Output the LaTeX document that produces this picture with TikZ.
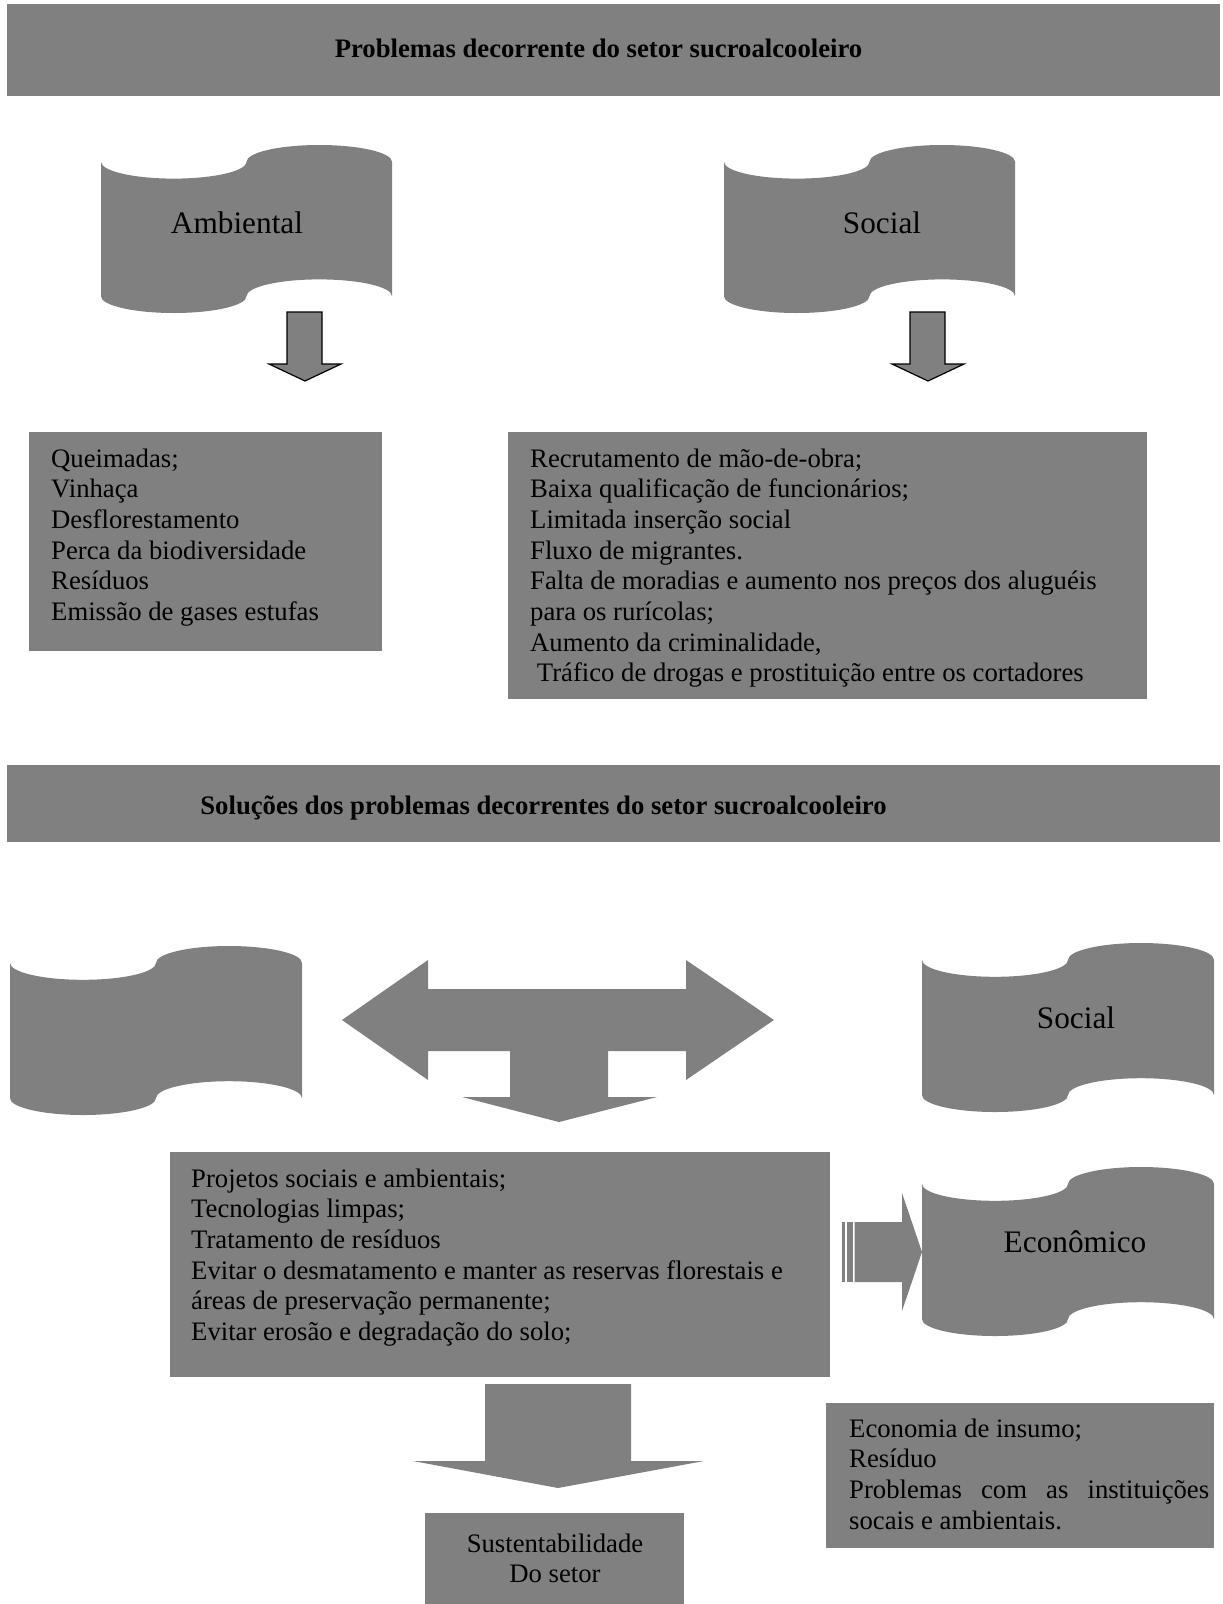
\documentclass[tikz,border=0pt]{standalone}
\usepackage{fontspec}
\setmainfont{Liberation Serif}
\definecolor{boxgray}{RGB}{128,128,128}
\tikzset{
  panel/.style={fill=boxgray, draw=none, inner sep=0pt, anchor=north west},
  bodytext/.style={font=\fontsize{26.7}{30.7}\selectfont, inner sep=0pt, anchor=base west},
  titletext/.style={font=\fontsize{26.7}{30.7}\selectfont\bfseries, inner sep=0pt, anchor=base},
  wavetext/.style={font=\fontsize{31.3}{36}\selectfont, inner sep=0pt, anchor=base},
  outlinedarrow/.style={fill=boxgray, draw=black, line width=1.2pt, line join=miter},
  pics/tape/.style 2 args={code={
    \fill[boxgray] (0,#2/10)
      arc[start angle=180, end angle=0,   x radius=#1/4, y radius=#2/10]
      arc[start angle=180, end angle=360, x radius=#1/4, y radius=#2/10]
      -- (#1,9*#2/10)
      arc[start angle=0, end angle=-180,  x radius=#1/4, y radius=#2/10]
      arc[start angle=0, end angle=180,   x radius=#1/4, y radius=#2/10]
      -- cycle;
  }},
}
\begin{document}
\begin{tikzpicture}[x=1pt, y=-1pt]
\useasboundingbox (0,0) rectangle (1223,1604);

% ---------- Problems ----------
\node[panel, minimum width=1213, minimum height=92] (band1) at (7,4) {};
\node[titletext] (title1) at (598.5,57) {Problemas decorrente do setor sucroalcooleiro};

\pic at (101,145) {tape={291}{168}};
\node[wavetext] (ambiental) at (237,233) {Ambiental};
\pic at (724,145) {tape={291}{168}};
\node[wavetext] (social1) at (882,233) {Social};

% small down arrows
\draw[outlinedarrow] (287,312) -- (322,312) -- (322,364) -- (341,364) -- (305,381)
  -- (269,364) -- (287,364) -- cycle;
\draw[outlinedarrow] (910,312) -- (945,312) -- (945,364) -- (964,364) -- (928,381)
  -- (892,364) -- (910,364) -- cycle;

\node[panel, minimum width=353, minimum height=219] (ambbox) at (29,432) {};
\node[bodytext] (ambtext) at (51,467) {\parbox[t]{320pt}{\raggedright
  Queimadas;\\
  Vinhaça\\
  Desflorestamento\\
  Perca da biodiversidade\\
  Resíduos\\
  Emissão de gases estufas}};

\node[panel, minimum width=639, minimum height=267] (socbox) at (508,432) {};
\node[bodytext] (soctext) at (530,467) {\parbox[t]{610pt}{\raggedright
  Recrutamento de mão-de-obra;\\
  Baixa qualificação de funcionários;\\
  Limitada inserção social\\
  Fluxo de migrantes.\\
  Falta de moradias e aumento nos preços dos aluguéis\\
  para os rurícolas;\\
  Aumento da criminalidade,\\
  \hspace*{6.7pt}Tráfico de drogas e prostituição entre os cortadores}};

% ---------- Solutions ----------
\node[panel, minimum width=1213, minimum height=77] (band2) at (7,765) {};
\node[titletext] (title2) at (543.5,814) {Soluções dos problemas decorrentes do setor sucroalcooleiro};

\pic at (10,946) {tape={292}{169}};
\pic at (922,943) {tape={292}{169}};
\node[wavetext] (social2) at (1076,1028) {Social};

% double-headed arrow with a downward branch
\fill[boxgray] (342,1020) -- (428,960) -- (428,989) -- (686,989) -- (686,960)
  -- (774,1020) -- (686,1080) -- (686,1051) -- (608,1051) -- (608,1097)
  -- (657,1097) -- (559,1122) -- (462,1097) -- (510,1097) -- (510,1051)
  -- (428,1051) -- (428,1080) -- cycle;

\node[panel, minimum width=660, minimum height=225] (midbox) at (170,1152) {};
\node[bodytext] (midtext) at (191,1187) {\parbox[t]{630pt}{\raggedright
  Projetos sociais e ambientais;\\
  Tecnologias limpas;\\
  Tratamento de resíduos\\
  Evitar o desmatamento e manter as reservas florestais e\\
  áreas de preservação permanente;\\
  Evitar erosão e degradação do solo;}};

% striped arrow towards the economic banner
\fill[boxgray] (842,1222) rectangle (845,1282);
\fill[boxgray] (846.5,1222) rectangle (853,1282);
\fill[boxgray] (854.5,1222) -- (902,1222) -- (902,1193) -- (922,1252)
  -- (902,1311) -- (902,1282) -- (854.5,1282) -- cycle;

\pic at (922,1167) {tape={292}{169}};
\node[wavetext] (economico) at (1075,1252) {Econômico};

% arrow down to sustainability
\fill[boxgray] (485,1384) -- (631,1384) -- (631,1461) -- (704,1461) -- (558,1488)
  -- (413,1461) -- (485,1461) -- cycle;

\node[panel, minimum width=259, minimum height=91] (sustbox) at (425,1513) {};
\node[bodytext, anchor=base] (susttext) at (555,1552) {\parbox[t]{250pt}{\centering
  Sustentabilidade\\
  Do setor}};

\node[panel, minimum width=388, minimum height=145] (econbox) at (826,1403) {};
\node[bodytext] (econtext) at (849,1437) {\parbox[t]{360pt}{\raggedright
  Economia de insumo;\\
  Resíduo\\
  \makebox[360pt][s]{Problemas com as instituições}\\
  socais e ambientais.}};
\end{tikzpicture}
\end{document}
